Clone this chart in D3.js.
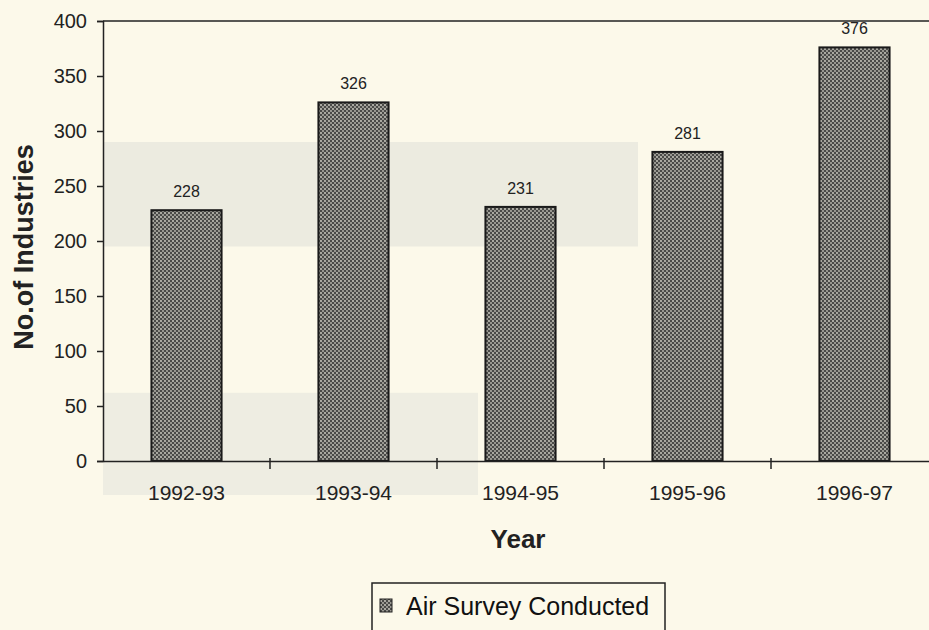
<!DOCTYPE html>
<html>
<head>
<meta charset="utf-8">
<script src="https://d3js.org/d3.v7.min.js"></script>
<style>
  body { margin: 0; background: #fcf9ea; }
  svg { display: block; }
</style>
</head>
<body>
<div id="container"></div>
<script>
var years = ["1992-93", "1993-94", "1994-95", "1995-96", "1996-97"];
var surveys = [228, 326, 231, 281, 376];
var yTicks = [0, 50, 100, 150, 200, 250, 300, 350, 400];

var width = 929, height = 630;
var plotLeft = 103, plotRight = 938, plotTop = 21, plotBottom = 461;
var font = "Arial, 'Liberation Sans', sans-serif";

var svg = d3.select("#container").append("svg")
    .attr("width", width)
    .attr("height", height)
    .style("font-family", font);

svg.append("rect").attr("width", width).attr("height", height).attr("fill", "#fcf9ea");

// dotted fill like the printed bars
var pat = svg.append("defs").append("pattern")
    .attr("id", "dots")
    .attr("width", 4).attr("height", 4)
    .attr("patternUnits", "userSpaceOnUse");
pat.append("rect").attr("width", 4).attr("height", 4).attr("fill", "#4a4a48");
pat.append("circle").attr("cx", 1).attr("cy", 1).attr("r", 0.9).attr("fill", "#d8d6cc");
pat.append("circle").attr("cx", 3).attr("cy", 3).attr("r", 0.9).attr("fill", "#bdbbb2");

var x = d3.scaleBand().domain(years).range([plotLeft, plotRight]).paddingInner(0.58).paddingOuter(0.29);
var band = d3.scaleBand().domain(years).range([plotLeft, plotRight]);
var y = d3.scaleLinear().domain([0, 400]).range([plotBottom, plotTop]);

// faint show-through shading from the scan
svg.append("rect").attr("x", plotLeft).attr("y", y(290)).attr("width", 535).attr("height", y(195) - y(290))
    .attr("fill", "#ecebe0");
svg.append("rect").attr("x", plotLeft).attr("y", y(62)).attr("width", 375).attr("height", 495 - y(62))
    .attr("fill", "#eeede2");

// top border
svg.append("line").attr("x1", plotLeft).attr("x2", width).attr("y1", plotTop).attr("y2", plotTop)
    .attr("stroke", "#222").attr("stroke-width", 1.5);

svg.selectAll(".bar")
    .data(surveys)
    .enter()
    .append("rect")
    .attr("class", "bar")
    .attr("x", function(d, i) { return x(years[i]); })
    .attr("y", function(d) { return y(d); })
    .attr("width", x.bandwidth())
    .attr("height", function(d) { return plotBottom - y(d); })
    .attr("fill", "url(#dots)")
    .attr("stroke", "#1a1a1a")
    .attr("stroke-width", 2);

svg.selectAll(".val")
    .data(surveys)
    .enter()
    .append("text")
    .attr("class", "val")
    .attr("x", function(d, i) { return x(years[i]) + x.bandwidth() / 2; })
    .attr("y", function(d) { return y(d) - 13; })
    .attr("text-anchor", "middle")
    .style("font-size", "16px")
    .attr("fill", "#222")
    .text(function(d) { return d; });

// y axis
var yAxis = svg.append("g")
    .attr("transform", "translate(" + plotLeft + ",0)")
    .call(d3.axisLeft(y).tickValues(yTicks).tickSize(6).tickPadding(10));
yAxis.select(".domain").attr("stroke", "#222").attr("stroke-width", 1.5);
yAxis.selectAll(".tick line").attr("stroke", "#222").attr("stroke-width", 1.5);
yAxis.selectAll(".tick text").style("font-size", "20px").attr("fill", "#222")
    .style("font-family", font);

// x axis with ticks between categories
var xAxis = svg.append("g")
    .attr("transform", "translate(0," + plotBottom + ")")
    .call(d3.axisBottom(band).tickSize(0).tickPadding(24));
xAxis.select(".domain").attr("stroke", "#222").attr("stroke-width", 1.5);
xAxis.selectAll(".tick text").style("font-size", "21px").attr("fill", "#222")
    .style("font-family", font);
xAxis.selectAll(".sep")
    .data(years.slice(1))
    .enter()
    .append("line")
    .attr("class", "sep")
    .attr("x1", function(d) { return band(d); })
    .attr("x2", function(d) { return band(d); })
    .attr("y1", -3).attr("y2", 8)
    .attr("stroke", "#222").attr("stroke-width", 1.5);

// axis titles
svg.append("text")
    .attr("transform", "translate(33,247) rotate(-90)")
    .attr("text-anchor", "middle")
    .style("font-size", "27px").style("font-weight", "bold")
    .attr("fill", "#222")
    .text("No.of Industries");

svg.append("text")
    .attr("x", 518).attr("y", 548)
    .attr("text-anchor", "middle")
    .style("font-size", "26px").style("font-weight", "bold")
    .attr("fill", "#222")
    .text("Year");

// legend
var legend = svg.append("g");
legend.append("rect")
    .attr("x", 372).attr("y", 583).attr("width", 293).attr("height", 60)
    .attr("fill", "none").attr("stroke", "#222").attr("stroke-width", 1.5);
legend.append("rect")
    .attr("x", 380).attr("y", 599).attr("width", 12).attr("height", 13)
    .attr("fill", "url(#dots)").attr("stroke", "#222").attr("stroke-width", 1);
legend.append("text")
    .attr("x", 406).attr("y", 615)
    .style("font-size", "25px")
    .attr("fill", "#111")
    .text("Air Survey Conducted");
</script>
</body>
</html>
